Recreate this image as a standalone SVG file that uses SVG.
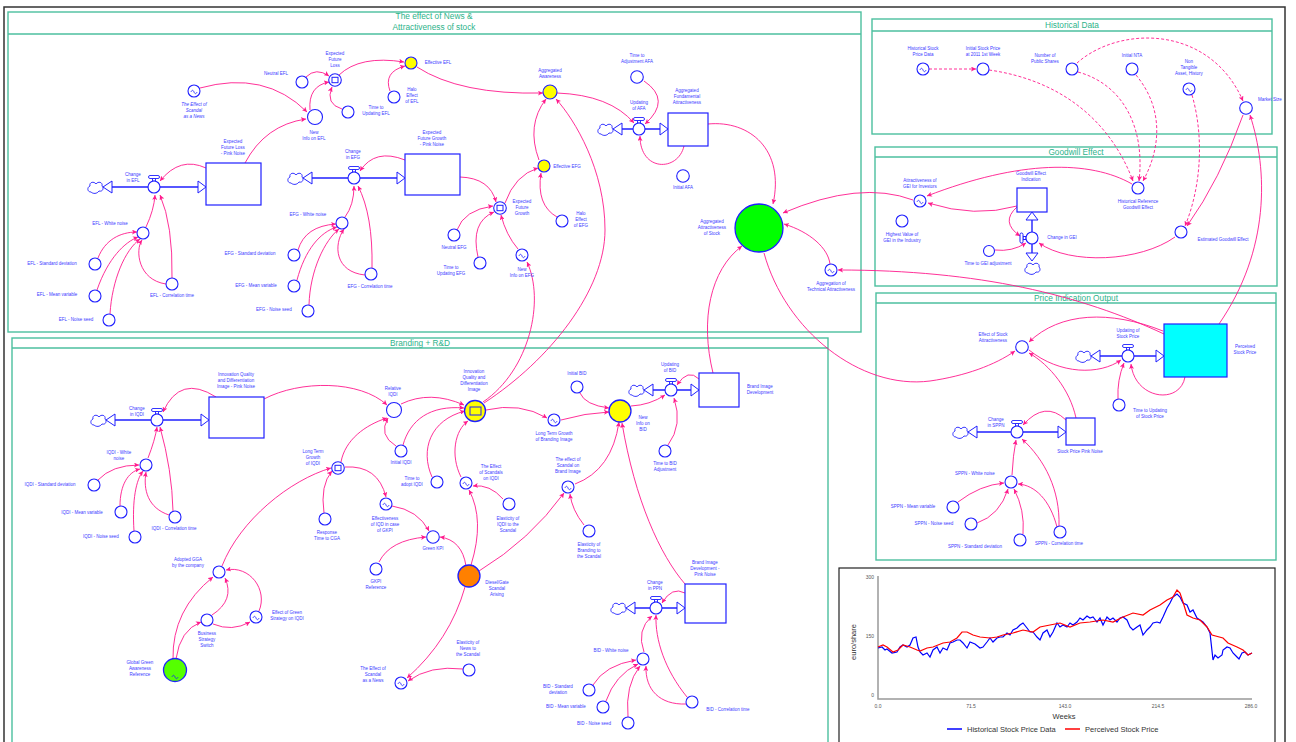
<svg xmlns="http://www.w3.org/2000/svg" width="1296" height="742" viewBox="0 0 1296 742">
<style>
.t{font-family:"Liberation Sans",Arial,sans-serif;font-size:4.5px;fill:#3a3aff;text-anchor:middle}
.ti{font-style:italic}
.st{font-family:"Liberation Sans",Arial,sans-serif;font-size:8.3px;fill:#2db38a;text-anchor:middle}
.a{fill:#fff;stroke:#1f1fff;stroke-width:1.1}
.s{fill:#fff;stroke:#1f1fff;stroke-width:1.2}
.p{fill:none;stroke:#1f1fff;stroke-width:1.4}
.h{fill:#fff;stroke:#1f1fff;stroke-width:1}
.sec{fill:none;stroke:#4cbf9f;stroke-width:1.4}
.c path{fill:none;stroke:#ff1a8c;stroke-width:0.9;marker-end:url(#ah)}
.c path.d{stroke-dasharray:3 2}
.ax{stroke:#999;stroke-width:1.5;fill:none}
.tk{font-family:"Liberation Sans",Arial,sans-serif;font-size:5px;fill:#555}
.lg{font-family:"Liberation Sans",Arial,sans-serif;font-size:7.5px;fill:#333}
</style>
<defs>
<marker id="ah" markerUnits="userSpaceOnUse" markerWidth="6" markerHeight="5" refX="5" refY="2.5" orient="auto"><path d="M0,0 L5,2.5 L0,5 L1.2,2.5 Z" fill="#ff1a8c"/></marker>
<path id="cloud" d="M-4,5 C-8,5 -8,0 -5,-1 C-6,-5 -1,-6 1,-3 C3,-6 8,-5 7,-1 C9,1 8,5 4,4 C2,7 -2,7 -4,5 Z" fill="#fff" stroke="#1f1fff" stroke-width="0.9"/>
<g id="valve"><rect x="-1.5" y="-8.5" width="3" height="2.6" fill="#fff" stroke="#1f1fff" stroke-width="0.9"/><rect x="-5.5" y="-11.5" width="11" height="3" rx="1.5" fill="#fff" stroke="#1f1fff" stroke-width="0.9"/><circle r="6" fill="#fff" stroke="#1f1fff" stroke-width="1.1"/></g>
<path id="tl" d="M-3,0 c0.8,-2.2 2.2,-2.2 3,0 s2.2,2.2 3,0" fill="none" stroke="#1f1fff" stroke-width="0.8"/>
</defs>
<rect x="0" y="0" width="1296" height="742" fill="#fff"/>
<rect x="4" y="7" width="1281" height="760" fill="none" stroke="#333" stroke-width="1.5"/>

<g id="sections">
<rect class="sec" x="8" y="12" width="853" height="320"/><line class="sec" x1="8" y1="34" x2="861" y2="34"/>
<text class="st" x="434" y="19">The effect of News &amp;</text><text class="st" x="434" y="30">Attractiveness of stock</text>
<rect class="sec" x="872" y="19" width="400" height="115"/><line class="sec" x1="872" y1="31" x2="1272" y2="31"/>
<text class="st" x="1072" y="28">Historical Data</text>
<rect class="sec" x="875" y="147" width="402" height="139"/><line class="sec" x1="875" y1="157" x2="1277" y2="157"/>
<text class="st" x="1076" y="154.5">Goodwill Effect</text>
<rect class="sec" x="876" y="293" width="400" height="267"/><line class="sec" x1="876" y1="303" x2="1276" y2="303"/>
<text class="st" x="1076" y="300.5">Price Indication Output</text>
<rect class="sec" x="12" y="338" width="816" height="420"/><line class="sec" x1="12" y1="348" x2="828" y2="348"/>
<text class="st" x="420" y="346">Branding + R&amp;D</text>
</g>

<g id="connectors" class="c">
<path d="M200,88 Q265,70 307,112"/>
<path d="M245,163 Q265,125 306,119"/>
<path d="M206,168 Q180,156 160,181"/>
<path d="M306,77 Q316,67 329,76"/>
<path d="M310,110 Q308,86 329,82"/>
<path d="M342,109 Q325,104 332,87"/>
<path d="M339,75 Q360,55 404,62"/>
<path d="M390,91 Q383,72 405,66"/>
<path d="M417,67 Q460,95 543,93"/>
<path d="M557,93 Q610,95 634,123"/>
<path d="M644,81 Q672,100 645,124"/>
<path d="M684,146 C678,172 640,172 640,136"/>
<path d="M708,124 C750,120 785,150 773,204"/>
<path d="M539,160 Q526,125 546,99"/>
<path d="M484,403 C550,360 605,290 605,230 S575,120 556,99"/>
<path d="M483,402 C530,370 545,300 527,262"/>
<path d="M460,177 Q490,178 496,202"/>
<path d="M457,230 Q464,210 493,206"/>
<path d="M478,257 Q470,222 494,212"/>
<path d="M518,249 Q506,235 501,215"/>
<path d="M505,203 Q515,175 538,168"/>
<path d="M557,217 Q536,205 541,173"/>
<path d="M405,160 Q375,148 360,171"/>
<path d="M345,217 Q354,205 354,186"/>
<path d="M372,268 Q373,215 358,186"/>
<path d="M365,275 C335,272 333,245 344,229"/>
<path d="M298,250 Q305,226 336,224"/>
<path d="M297,280 C305,250 320,232 337,227"/>
<path d="M309,305 C310,270 325,240 339,229"/>
<path d="M146,227 Q154,210 155,195"/>
<path d="M172,278 Q173,225 160,195"/>
<path d="M166,284 C138,280 135,250 142,240"/>
<path d="M98,258 C105,240 120,232 137,232"/>
<path d="M97,290 C108,258 125,242 138,237"/>
<path d="M110,314 C112,280 125,250 140,239"/>
<path d="M216,397 Q180,374 163,412"/>
<path d="M264,399 C300,380 360,380 387,405"/>
<path d="M401,404 Q430,390 464,405"/>
<path d="M396,446 Q378,435 388,418"/>
<path d="M403,445 C410,420 430,405 464,408"/>
<path d="M341,462 C345,440 365,425 387,418"/>
<path d="M432,477 C420,450 430,420 465,411"/>
<path d="M461,477 C450,455 455,430 468,421"/>
<path d="M486,410 Q520,402 547,418"/>
<path d="M561,420 Q585,413 609,412"/>
<path d="M580,393 Q585,405 609,408"/>
<path d="M575,484 Q612,470 619,422"/>
<path d="M685,584 C660,555 635,500 622,423"/>
<path d="M631,406 Q650,405 665,395"/>
<path d="M668,445 Q683,425 674,398"/>
<path d="M699,379 Q688,368 677,385"/>
<path d="M713,373 C700,320 710,270 742,246"/>
<path d="M584,525 Q572,510 570,494"/>
<path d="M479,571 Q530,540 564,493"/>
<path d="M471,565 Q485,520 469,490"/>
<path d="M503,499 Q490,484 473,486"/>
<path d="M466,566 Q462,540 440,537"/>
<path d="M392,506 Q418,510 429,531"/>
<path d="M379,562 Q390,540 426,537"/>
<path d="M345,467 Q378,465 386,497"/>
<path d="M324,513 Q320,485 332,471"/>
<path d="M222,566 C240,520 290,480 331,468"/>
<path d="M173,659 Q172,610 213,577"/>
<path d="M176,659 Q180,630 201,622"/>
<path d="M212,615 Q235,600 225,578"/>
<path d="M213,624 Q232,632 250,622"/>
<path d="M259,611 C268,590 250,565 226,570"/>
<path d="M465,587 Q450,640 407,678"/>
<path d="M463,669 Q430,665 408,681"/>
<path d="M148,458 Q155,440 157,427"/>
<path d="M173,511 Q172,470 160,427"/>
<path d="M169,515 C148,508 143,490 146,472"/>
<path d="M98,480 Q112,465 139,465"/>
<path d="M120,506 C120,485 128,472 140,469"/>
<path d="M134,531 C132,500 136,480 143,471"/>
<path d="M644,652 Q636,630 652,616"/>
<path d="M687,697 C665,670 655,640 656,615"/>
<path d="M686,704 C660,705 645,690 646,666"/>
<path d="M593,685 Q605,665 636,660"/>
<path d="M606,701 Q615,675 638,664"/>
<path d="M628,717 Q625,685 640,666"/>
<path d="M685,593 Q672,586 662,603"/>
<path d="M913,200 Q860,180 783,213"/>
<path d="M1132,184 C1090,160 1020,160 927,196"/>
<path d="M1017,206 Q975,218 928,203"/>
<path d="M1017,207 Q1000,222 1020,236"/>
<path d="M995,250 Q1012,252 1026,243"/>
<path d="M1175,237 C1140,262 1070,265 1039,243"/>
<path d="M1243,115 Q1220,180 1187,226"/>
<path d="M1219,324 C1270,250 1268,170 1250,115"/>
<path d="M764,253 C785,330 860,390 930,381 C965,376 995,365 1015,351"/>
<path d="M830,264 C828,248 810,232 784,224"/>
<path d="M1164,334 C1080,295 980,270 838,270"/>
<path d="M1163,331 C1110,310 1060,312 1029,342"/>
<path d="M1029,350 C1060,375 1100,375 1121,360"/>
<path d="M1076,418 C1070,390 1050,365 1029,353"/>
<path d="M1118,399 Q1117,380 1124,363"/>
<path d="M1185,377 C1180,405 1135,400 1131,364"/>
<path d="M1066,420 Q1045,400 1023,425"/>
<path d="M1012,475 Q1013,455 1016,440"/>
<path d="M1059,526 C1060,490 1045,460 1022,439"/>
<path d="M1057,527 C1050,500 1035,485 1018,484"/>
<path d="M958,502 Q980,485 1004,483"/>
<path d="M977,523 Q1000,515 1008,489"/>
<path d="M1023,534 Q1025,510 1014,489"/>
<path class="d" d="M929,69 L976,69"/>
<path class="d" d="M989,70 C1060,80 1110,120 1133,181"/>
<path class="d" d="M1078,72 C1125,85 1145,130 1139,181"/>
<path class="d" d="M1136,75 C1165,110 1160,150 1143,181"/>
<path class="d" d="M1077,63 C1120,25 1210,25 1243,101"/>
<path class="d" d="M1192,95 C1205,140 1200,190 1185,226"/>
</g>

<!-- News section nodes -->
<g id="n-scandal-news-1"><circle class="a" cx="194" cy="91" r="6"/><use href="#tl" x="194" y="92"/><text class="t ti" x="194" y="105.6">The Effect of<tspan x="194" dy="6.2">Scandal</tspan><tspan x="194" dy="6.2">as a News</tspan></text></g>
<g id="n-neutral-efl"><circle class="a" cx="302" cy="82" r="6"/><text class="t" x="276" y="74.6">Neutral EFL</text></g>
<g id="n-new-info-efl"><circle class="a" cx="315" cy="117" r="7.5"/><text class="t" x="314" y="133.6">New<tspan x="314" dy="6.2">Info on EFL</tspan></text></g>
<g id="n-efl-pink"><rect class="s" x="206" y="163" width="55" height="42"/><text class="t" x="233" y="142.6">Expected<tspan x="233" dy="6.2">Future Loss</tspan><tspan x="233" dy="6.2">- Pink Noise</tspan></text></g>
<g id="n-change-efl"><line class="p" x1="112" y1="187" x2="198" y2="187"/><polygon class="h" points="103,187 112,181 112,193"/><polygon class="h" points="198,181 206,187 198,193"/><use href="#cloud" x="95" y="187"/><use href="#valve" x="154" y="187"/><text class="t" x="133" y="175.6">Change<tspan x="133" dy="6.2">in EFL</tspan></text></g>
<g id="n-efl-wn"><circle class="a" cx="143" cy="233" r="6"/><text class="t" x="110" y="224.6">EFL - White noise</text></g>
<g id="n-efl-sd"><circle class="a" cx="95" cy="264" r="6"/><text class="t" x="52" y="264.6">EFL - Standard deviation</text></g>
<g id="n-efl-mv"><circle class="a" cx="95" cy="296" r="6"/><text class="t" x="57" y="295.6">EFL - Mean variable</text></g>
<g id="n-efl-ns"><circle class="a" cx="109" cy="320" r="6"/><text class="t" x="76" y="320.6">EFL - Noise seed</text></g>
<g id="n-efl-ct"><circle class="a" cx="172" cy="284" r="6"/><text class="t" x="172" y="296.6">EFL - Correlation time</text></g>
<g id="n-exp-future-loss"><circle class="a" cx="335" cy="80" r="6.3" stroke-width="1.5"/><rect class="h" x="332" y="77.3" width="6" height="5.4"/><text class="t" x="335" y="54.6">Expected<tspan x="335" dy="6.2">Future</tspan><tspan x="335" dy="6.2">Loss</tspan></text></g>
<g id="n-time-upd-efl"><circle class="a" cx="348" cy="112" r="6"/><text class="t" x="376" y="108.6">Time to<tspan x="376" dy="6.2">Updating EFL</tspan></text></g>
<g id="n-effective-efl"><circle class="a" cx="411" cy="63" r="6" fill="#ffff00" style="fill:#ffff00"/><text class="t" x="438" y="63.6">Effective EFL</text></g>
<g id="n-halo-efl"><circle class="a" cx="394" cy="97" r="6"/><text class="t" x="412" y="90.6">Halo<tspan x="412" dy="6.2">Effect</tspan><tspan x="412" dy="6.2">of EFL</tspan></text></g>
<g id="n-agg-awareness"><circle class="a" cx="550" cy="92" r="7" style="fill:#ffff00"/><text class="t" x="550" y="71.6">Aggregated<tspan x="550" dy="6.2">Awareness</tspan></text></g>
<g id="n-time-adj-afa"><circle class="a" cx="637" cy="77" r="6.3"/><text class="t" x="637" y="56.6">Time to<tspan x="637" dy="6.2">Adjustment AFA</tspan></text></g>
<g id="n-upd-afa"><line class="p" x1="622" y1="129" x2="660" y2="129"/><polygon class="h" points="613,129 622,123 622,135"/><polygon class="h" points="660,123 668,129 660,135"/><use href="#cloud" x="605" y="129"/><use href="#valve" x="639" y="129"/><text class="t" x="639" y="103.6">Updating<tspan x="639" dy="6.2">of AFA</tspan></text></g>
<g id="n-agg-fund-attr"><rect class="s" x="668" y="113" width="40" height="33"/><text class="t" x="687" y="91.6">Aggregated<tspan x="687" dy="6.2">Fundamental</tspan><tspan x="687" dy="6.2">Attractiveness</tspan></text></g>
<g id="n-initial-afa"><circle class="a" cx="683" cy="176" r="6.3"/><text class="t" x="683" y="188.6">Initial AFA</text></g>
<g id="n-agg-attr-stock"><circle class="a" cx="759" cy="228" r="24" style="fill:#00ff00;stroke-width:1.3"/><text class="t" x="712" y="222.6">Aggregated<tspan x="712" dy="6.2">Attractiveness</tspan><tspan x="712" dy="6.2">of Stock</tspan></text></g>
<g id="n-efg-pink"><rect class="s" x="405" y="154" width="55" height="41"/><text class="t" x="432" y="133.6">Expected<tspan x="432" dy="6.2">Future Growth</tspan><tspan x="432" dy="6.2">- Pink Noise</tspan></text></g>
<g id="n-change-efg"><line class="p" x1="312" y1="178" x2="397" y2="178"/><polygon class="h" points="303,178 312,172 312,184"/><polygon class="h" points="397,172 405,178 397,184"/><use href="#cloud" x="295" y="178"/><use href="#valve" x="354" y="178"/><text class="t" x="353" y="152.6">Change<tspan x="353" dy="6.2">in EFG</tspan></text></g>
<g id="n-efg-wn"><circle class="a" cx="342" cy="223" r="6"/><text class="t" x="308" y="215.6">EFG - White noise</text></g>
<g id="n-efg-sd"><circle class="a" cx="294" cy="255" r="6"/><text class="t" x="250" y="254.6">EFG - Standard deviation</text></g>
<g id="n-efg-mv"><circle class="a" cx="294" cy="286" r="6"/><text class="t" x="256" y="286.6">EFG - Mean variable</text></g>
<g id="n-efg-ns"><circle class="a" cx="308" cy="311" r="6"/><text class="t" x="274" y="310.6">EFG - Noise seed</text></g>
<g id="n-efg-ct"><circle class="a" cx="371" cy="274" r="6"/><text class="t" x="370" y="287.6">EFG - Correlation time</text></g>
<g id="n-exp-future-growth"><circle class="a" cx="500" cy="208" r="6.3" stroke-width="1.5"/><rect class="h" x="497" y="205.3" width="6" height="5.4"/><text class="t" x="522" y="202.6">Expected<tspan x="522" dy="6.2">Future</tspan><tspan x="522" dy="6.2">Growth</tspan></text></g>
<g id="n-effective-efg"><circle class="a" cx="544" cy="166" r="6" style="fill:#ffff00"/><text class="t" x="567" y="167.6">Effective EFG</text></g>
<g id="n-halo-efg"><circle class="a" cx="562" cy="221" r="6"/><text class="t" x="581" y="214.6">Halo<tspan x="581" dy="6.2">Effect</tspan><tspan x="581" dy="6.2">of EFG</tspan></text></g>
<g id="n-neutral-efg"><circle class="a" cx="454" cy="235" r="6"/><text class="t" x="454" y="248.6">Neutral EFG</text></g>
<g id="n-time-upd-efg"><circle class="a" cx="480" cy="263" r="6"/><text class="t" x="451" y="268.6">Time to<tspan x="451" dy="6.2">Updating EFG</tspan></text></g>
<g id="n-new-info-efg"><circle class="a" cx="522" cy="255" r="6"/><use href="#tl" x="522" y="256"/><text class="t" x="522" y="270.6">New<tspan x="522" dy="6.2">Info on EFG</tspan></text></g>
<g id="n-agg-tech-attr"><circle class="a" cx="831" cy="270" r="6"/><use href="#tl" x="831" y="271"/><text class="t" x="831" y="284.6">Aggregation of<tspan x="831" dy="6.2">Technical Attractiveness</tspan></text></g>

<!-- Historical data -->
<g id="n-hist-price"><circle class="a" cx="923" cy="69" r="6"/><use href="#tl" x="923" y="70"/><text class="t" x="923" y="49.6">Historical Stock<tspan x="923" dy="6.2">Price Data</tspan></text></g>
<g id="n-init-price"><circle class="a" cx="983" cy="69" r="6"/><text class="t" x="983" y="49.6">Initial Stock Price<tspan x="983" dy="6.2">at 2011 1st Week</tspan></text></g>
<g id="n-public-shares"><circle class="a" cx="1072" cy="69" r="6"/><text class="t" x="1045" y="56.6">Number of<tspan x="1045" dy="6.2">Public Shares</tspan></text></g>
<g id="n-init-nta"><circle class="a" cx="1132" cy="69" r="6"/><text class="t" x="1132" y="56.6">Initial NTA</text></g>
<g id="n-non-tangible"><circle class="a" cx="1189" cy="89" r="6"/><use href="#tl" x="1189" y="90"/><text class="t" x="1189" y="62.6">Non<tspan x="1189" dy="6.2">Tangible</tspan><tspan x="1189" dy="6.2">Asset, History</tspan></text></g>
<g id="n-market-size"><circle class="a" cx="1246" cy="108" r="6.3"/><text class="t" x="1270" y="100.6">Market Size</text></g>

<!-- Goodwill -->
<g id="n-attr-gei"><circle class="a" cx="920" cy="201" r="6"/><use href="#tl" x="920" y="202"/><text class="t" x="920" y="181.6">Attractiveness of<tspan x="920" dy="6.2">GEI for Investors</tspan></text></g>
<g id="n-highest-gei"><circle class="a" cx="902" cy="221" r="6"/><text class="t" x="902" y="235.6">Highest Value of<tspan x="902" dy="6.2">GEI in the Industry</tspan></text></g>
<g id="n-gei-stock"><rect class="s" x="1017" y="188" width="30" height="24"/><text class="t" x="1031" y="174.6">Goodwill Effect<tspan x="1031" dy="6.2">Indication</tspan></text></g>
<g id="n-change-gei"><line class="p" x1="1032" y1="220" x2="1032" y2="253"/><polygon class="h" points="1032,212 1026,220 1038,220"/><polygon class="h" points="1032,261 1026,253 1038,253"/><use href="#cloud" x="1032" y="268"/><rect class="h" x="1023" y="236.5" width="3" height="3"/><rect class="h" x="1020" y="233" width="3" height="10" rx="1.5"/><circle class="a" cx="1032" cy="238" r="6"/><text class="t" x="1062" y="238.6">Change in GEI</text></g>
<g id="n-hist-ref-ge"><circle class="a" cx="1138" cy="188" r="6"/><text class="t" x="1138" y="202.6">Historical Reference<tspan x="1138" dy="6.2">Goodwill Effect</tspan></text></g>
<g id="n-est-ge"><circle class="a" cx="1181" cy="232" r="6"/><text class="t" x="1223" y="240.6">Estimated Goodwill Effect</text></g>
<g id="n-time-gei"><circle class="a" cx="989" cy="251" r="5.5"/><text class="t" x="988" y="264.6">Time to GEI adjustment</text></g>

<!-- Price indication -->
<g id="n-perceived"><rect class="s" x="1164" y="324" width="63" height="53" style="fill:#00ffff"/><text class="t" x="1245" y="347.6">Perceived<tspan x="1245" dy="6.2">Stock Price</tspan></text></g>
<g id="n-upd-sp"><line class="p" x1="1100" y1="356" x2="1156" y2="356"/><polygon class="h" points="1091,356 1100,350 1100,362"/><polygon class="h" points="1156,350 1164,356 1156,362"/><use href="#cloud" x="1083" y="356"/><use href="#valve" x="1128" y="356"/><text class="t" x="1128" y="331.6">Updating of<tspan x="1128" dy="6.2">Stock Price</tspan></text></g>
<g id="n-eff-stock-attr"><circle class="a" cx="1022" cy="347" r="6.3"/><text class="t" x="993" y="335.6">Effect of Stock<tspan x="993" dy="6.2">Attractiveness</tspan></text></g>
<g id="n-time-upd-sp"><circle class="a" cx="1119" cy="405" r="6"/><text class="t" x="1150" y="411.6">Time to Updating<tspan x="1150" dy="6.2">of Stock Price</tspan></text></g>
<g id="n-sppn-stock"><rect class="s" x="1066" y="418" width="29" height="27"/><text class="t" x="1080" y="452.6">Stock Price Pink Noise</text></g>
<g id="n-change-sppn"><line class="p" x1="977" y1="432" x2="1058" y2="432"/><polygon class="h" points="968,432 977,426 977,438"/><polygon class="h" points="1058,426 1066,432 1058,438"/><use href="#cloud" x="960" y="432"/><use href="#valve" x="1017" y="432"/><text class="t" x="996" y="420.6">Change<tspan x="996" dy="6.2">in SPPN</tspan></text></g>
<g id="n-sppn-wn"><circle class="a" cx="1011" cy="482" r="6"/><text class="t" x="975" y="474.6">SPPN - White noise</text></g>
<g id="n-sppn-mv"><circle class="a" cx="953" cy="507" r="6"/><text class="t" x="913" y="507.6">SPPN - Mean variable</text></g>
<g id="n-sppn-ns"><circle class="a" cx="971" cy="524" r="6"/><text class="t" x="934" y="524.6">SPPN - Noise seed</text></g>
<g id="n-sppn-sd"><circle class="a" cx="1020" cy="540" r="6"/><text class="t" x="975" y="547.6">SPPN - Standard deviation</text></g>
<g id="n-sppn-ct"><circle class="a" cx="1060" cy="532" r="6"/><text class="t" x="1059" y="544.6">SPPN - Correlation time</text></g>

<!-- Branding -->
<g id="n-iqdi-pink"><rect class="s" x="209" y="397" width="55" height="41"/><text class="t" x="236" y="375.6">Innovation Quality<tspan x="236" dy="6.2">and Differentiation</tspan><tspan x="236" dy="6.2">Image - Pink Noise</tspan></text></g>
<g id="n-change-iqdi"><line class="p" x1="115" y1="420" x2="201" y2="420"/><polygon class="h" points="106,420 115,414 115,426"/><polygon class="h" points="201,414 209,420 201,426"/><use href="#cloud" x="98" y="420"/><use href="#valve" x="157" y="420"/><text class="t" x="137" y="409.6">Change<tspan x="137" dy="6.2">in IQDI</tspan></text></g>
<g id="n-iqdi-wn"><circle class="a" cx="146" cy="465" r="6"/><text class="t" x="119" y="453.6">IQDI - White<tspan x="119" dy="6.2">noise</tspan></text></g>
<g id="n-iqdi-sd"><circle class="a" cx="94" cy="485" r="6"/><text class="t" x="50" y="485.6">IQDI - Standard deviation</text></g>
<g id="n-iqdi-mv"><circle class="a" cx="121" cy="512" r="6"/><text class="t" x="82" y="513.6">IQDI - Mean variable</text></g>
<g id="n-iqdi-ns"><circle class="a" cx="135" cy="537" r="6"/><text class="t" x="101" y="537.6">IQDI - Noise seed</text></g>
<g id="n-iqdi-ct"><circle class="a" cx="175" cy="517" r="6"/><text class="t" x="174" y="529.6">IQDI - Correlation time</text></g>
<g id="n-ltg-iqdi"><circle class="a" cx="338" cy="468" r="6.3" stroke-width="1.5"/><rect class="h" x="335" y="465.3" width="6" height="5.4"/><text class="t" x="313" y="452.6">Long Term<tspan x="313" dy="6.2">Growth</tspan><tspan x="313" dy="6.2">of IQDI</tspan></text></g>
<g id="n-response-cga"><circle class="a" cx="325" cy="519" r="6"/><text class="t" x="327" y="533.6">Response<tspan x="327" dy="6.2">Time to CGA</tspan></text></g>
<g id="n-relative-iqdi"><circle class="a" cx="394" cy="410" r="7.5"/><text class="t" x="393" y="389.6">Relative<tspan x="393" dy="6.2">IQDI</tspan></text></g>
<g id="n-initial-iqdi"><circle class="a" cx="401" cy="451" r="6"/><text class="t" x="401" y="463.6">Initial IQDI</text></g>
<g id="n-time-adopt-iqdi"><circle class="a" cx="437" cy="482" r="6"/><text class="t" x="412" y="479.6">Time to<tspan x="412" dy="6.2">adopt IQDI</tspan></text></g>
<g id="n-iqdi-image"><circle class="a" cx="475" cy="411" r="10.5" style="fill:#ffff00;stroke-width:1.3"/><rect x="470" y="407" width="11" height="8" fill="#ffff00" stroke="#1f1fff" stroke-width="1"/><text class="t" x="474" y="372.6">Innovation<tspan x="474" dy="6.2">Quality and</tspan><tspan x="474" dy="6.2">Differentiation</tspan><tspan x="474" dy="6.2">Image</tspan></text></g>
<g id="n-eff-scandals-iqdi"><circle class="a" cx="466" cy="483" r="6"/><use href="#tl" x="466" y="484"/><text class="t" x="491" y="467.6">The Effect<tspan x="491" dy="6.2">of Scandals</tspan><tspan x="491" dy="6.2">on IQDI</tspan></text></g>
<g id="n-elast-iqdi"><circle class="a" cx="509" cy="504" r="6"/><text class="t" x="508" y="519.6">Elasticity of<tspan x="508" dy="6.2">IQDI to the</tspan><tspan x="508" dy="6.2">Scandal</tspan></text></g>
<g id="n-ltg-branding"><circle class="a" cx="554" cy="420" r="6"/><use href="#tl" x="554" y="421"/><text class="t" x="554" y="434.6">Long Term Growth<tspan x="554" dy="6.2">of Branding Image</tspan></text></g>
<g id="n-initial-bid"><circle class="a" cx="577" cy="387" r="6"/><text class="t" x="577" y="374.6">Initial BID</text></g>
<g id="n-new-info-bid"><circle class="a" cx="620" cy="411" r="11" style="fill:#ffff00;stroke-width:1.3"/><text class="t" x="643" y="418.6">New<tspan x="643" dy="6.2">Info on</tspan><tspan x="643" dy="6.2">BID</tspan></text></g>
<g id="n-eff-scandal-brand"><circle class="a" cx="568" cy="487" r="6"/><use href="#tl" x="568" y="488"/><text class="t" x="568" y="460.6">The effect of<tspan x="568" dy="6.2">Scandal on</tspan><tspan x="568" dy="6.2">Brand Image</tspan></text></g>
<g id="n-elast-brand"><circle class="a" cx="589" cy="531" r="6"/><text class="t" x="589" y="545.6">Elasticity of<tspan x="589" dy="6.2">Branding to</tspan><tspan x="589" dy="6.2">the Scandal</tspan></text></g>
<g id="n-upd-bid"><line class="p" x1="653" y1="390" x2="691" y2="390"/><polygon class="h" points="644,390 653,384 653,396"/><polygon class="h" points="691,384 699,390 691,396"/><use href="#cloud" x="636" y="390"/><use href="#valve" x="671" y="390"/><text class="t" x="670" y="365.6">Updating<tspan x="670" dy="6.2">of BID</tspan></text></g>
<g id="n-bid-stock"><rect class="s" x="699" y="373" width="40" height="34"/><text class="t" x="760" y="387.6">Brand Image<tspan x="760" dy="6.2">Development</tspan></text></g>
<g id="n-time-bid"><circle class="a" cx="665" cy="451" r="6"/><text class="t" x="665" y="464.6">Time to BID<tspan x="665" dy="6.2">Adjustment</tspan></text></g>
<g id="n-eff-iqd-gkpi"><circle class="a" cx="386" cy="504" r="6"/><use href="#tl" x="386" y="505"/><text class="t" x="385" y="519.6">Effectiveness<tspan x="385" dy="6.2">of IQD in case</tspan><tspan x="385" dy="6.2">of GKPI</tspan></text></g>
<g id="n-green-kpi"><circle class="a" cx="433" cy="537" r="6.3"/><text class="t" x="433" y="549.6">Green KPI</text></g>
<g id="n-gkpi-ref"><circle class="a" cx="376" cy="569" r="6"/><text class="t" x="376" y="582.6">GKPI<tspan x="376" dy="6.2">Reference</tspan></text></g>
<g id="n-diesel"><circle class="a" cx="469" cy="576" r="11" style="fill:#ff8000;stroke-width:1.3"/><text class="t" x="497" y="583.6">Diesel/Gate<tspan x="497" dy="6.2">Scandal</tspan><tspan x="497" dy="6.2">Arising</tspan></text></g>
<g id="n-elast-news"><circle class="a" cx="469" cy="670" r="6"/><text class="t" x="468" y="643.6">Elasticity of<tspan x="468" dy="6.2">News to</tspan><tspan x="468" dy="6.2">the Scandal</tspan></text></g>
<g id="n-scandal-news-2"><circle class="a" cx="401" cy="683" r="6"/><use href="#tl" x="401" y="684"/><text class="t" x="373" y="669.6">The Effect of<tspan x="373" dy="6.2">Scandal</tspan><tspan x="373" dy="6.2">as a News</tspan></text></g>
<g id="n-adopted-gga"><circle class="a" cx="219" cy="572" r="6"/><text class="t" x="188" y="560.6">Adopted GGA<tspan x="188" dy="6.2">by the company</tspan></text></g>
<g id="n-bss"><circle class="a" cx="207" cy="620" r="6"/><text class="t" x="207" y="634.6">Business<tspan x="207" dy="6.2">Strategy</tspan><tspan x="207" dy="6.2">Switch</tspan></text></g>
<g id="n-eff-green"><circle class="a" cx="256" cy="617" r="6"/><use href="#tl" x="256" y="618"/><text class="t" x="287" y="613.6">Effect of Green<tspan x="287" dy="6.2">Strategy on IQDI</tspan></text></g>
<g id="n-global-green"><circle class="a" cx="175" cy="670" r="11.5" style="fill:#55ff00;stroke-width:1.3"/><use href="#tl" x="175" y="677"/><text class="t" x="140" y="663.6">Global Green<tspan x="140" dy="6.2">Awareness</tspan><tspan x="140" dy="6.2">Reference</tspan></text></g>
<g id="n-change-ppn"><line class="p" x1="635" y1="608" x2="677" y2="608"/><polygon class="h" points="626,608 635,602 635,614"/><polygon class="h" points="677,602 685,608 677,614"/><use href="#cloud" x="618" y="608"/><use href="#valve" x="656" y="608"/><text class="t" x="655" y="583.6">Change<tspan x="655" dy="6.2">in PPN</tspan></text></g>
<g id="n-bid-pn"><rect class="s" x="685" y="584" width="41" height="39"/><text class="t" x="705" y="563.6">Brand Image<tspan x="705" dy="6.2">Development -</tspan><tspan x="705" dy="6.2">Pink Noise</tspan></text></g>
<g id="n-bid-wn"><circle class="a" cx="643" cy="659" r="6"/><text class="t" x="611" y="651.6">BID - White noise</text></g>
<g id="n-bid-sd"><circle class="a" cx="589" cy="690" r="6"/><text class="t" x="558" y="687.6">BID - Standard<tspan x="558" dy="6.2">deviation</tspan></text></g>
<g id="n-bid-mv"><circle class="a" cx="603" cy="707" r="6"/><text class="t" x="566" y="707.6">BID - Mean variable</text></g>
<g id="n-bid-ns"><circle class="a" cx="628" cy="723" r="6"/><text class="t" x="594" y="724.6">BID - Noise seed</text></g>
<g id="n-bid-ct"><circle class="a" cx="692" cy="702" r="6"/><text class="t" x="728" y="710.6">BID - Correlation time</text></g>

<!-- Chart -->
<g id="chart">
<rect x="839" y="568" width="436" height="182" fill="#fff" stroke="#222" stroke-width="1.2"/>
<path class="ax" d="M878,576 V699 H1252"/>
<text class="tk" x="874" y="579" text-anchor="end">300</text>
<text class="tk" x="874" y="638" text-anchor="end">150</text>
<text class="tk" x="874" y="697" text-anchor="end">0</text>
<text class="tk" x="878" y="708" text-anchor="middle">0.0</text>
<text class="tk" x="971" y="708" text-anchor="middle">71.5</text>
<text class="tk" x="1065" y="708" text-anchor="middle">143.0</text>
<text class="tk" x="1158" y="708" text-anchor="middle">214.5</text>
<text class="tk" x="1251" y="708" text-anchor="middle">286.0</text>
<polyline fill="none" stroke="#0000ff" stroke-width="1.2" points="878,648 882,647 885,650 887,649 892,653 897,652 900,647 903,645 907,647 910,645 913,638 916,637 918,647 920,652 923,655 927,653 930,657 933,650 937,647 940,653 943,648 947,650 950,643 953,642 957,640 960,640 963,643 967,648 970,642 975,644 980,648 983,647 987,642 990,638 993,642 997,638 1000,637 1003,637 1007,633 1010,635 1013,630 1017,628 1020,625 1023,623 1027,628 1030,632 1033,632 1037,637 1040,640 1043,633 1047,630 1050,637 1053,632 1057,623 1060,627 1063,625 1067,627 1070,623 1073,625 1077,622 1080,618 1083,620 1087,616 1090,618 1093,617 1097,622 1100,618 1103,625 1107,617 1110,620 1113,618 1117,622 1120,618 1123,617 1127,620 1130,627 1133,630 1137,627 1140,625 1143,635 1147,630 1150,627 1153,623 1157,622 1160,623 1163,617 1167,608 1170,603 1173,597 1177,594 1180,597 1183,603 1187,605 1190,612 1193,610 1197,618 1200,620 1203,622 1207,627 1210,633 1213,660 1215,655 1218,658 1222,655 1223,650 1227,647 1230,648 1233,653 1237,657 1239,659 1242,653 1245,652 1248,655 1252,653"/>
<polyline fill="none" stroke="#ff0000" stroke-width="1.2" points="878,647 883,645 887,647 893,652 898,650 903,645 910,647 917,650 920,651 927,648 933,647 943,643 950,642 957,638 962,632 967,632 973,635 980,637 990,638 997,637 1003,635 1013,633 1023,630 1033,632 1040,627 1050,625 1060,623 1070,627 1080,623 1090,622 1103,620 1113,622 1123,617 1133,613 1143,615 1150,610 1160,605 1167,600 1173,597 1177,590 1180,593 1183,602 1187,615 1193,618 1200,620 1207,627 1212,635 1223,638 1228,643 1237,647 1243,650 1248,655 1252,653"/>
<text class="lg" x="1064" y="719" text-anchor="middle">Weeks</text>
<text class="lg" transform="translate(856,642) rotate(-90)" text-anchor="middle">euro/share</text>
<line x1="947" y1="729" x2="962" y2="729" stroke="#0000ff" stroke-width="1.5"/>
<text class="lg" x="967" y="731.6">Historical Stock Price Data</text>
<line x1="1065" y1="729" x2="1080" y2="729" stroke="#ff0000" stroke-width="1.5"/>
<text class="lg" x="1085" y="731.6">Perceived Stock Price</text>
</g>
</svg>
